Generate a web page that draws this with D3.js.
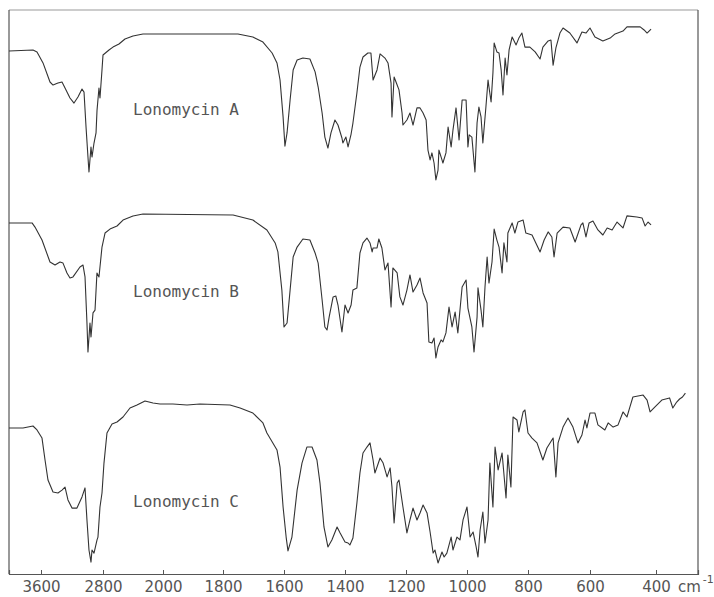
<!DOCTYPE html>
<html><head><meta charset="utf-8">
<script src="https://cdn.jsdelivr.net/npm/d3@7"></script>
<style>body{margin:0;background:#fff}svg{display:block}</style>
</head><body>
<script>
// wavenumber (cm-1) and relative transmittance readings
const wnA = [4000,3700,3650,3574,3484,3445,3381,3329,3290,3226,3174,3123,3071,3045,3019,2994,2981,2955,2942,2916,2890,2877,2852,2839,2813,2800,2720,2667,2587,2507,2400,2267,1751,1702,1669,1639,1623,1613,1603,1597,1590,1580,1570,1557,1538,1515,1498,1488,1475,1466,1456,1446,1433,1423,1410,1407,1397,1390,1380,1374,1361,1351,1341,1325,1315,1308,1295,1285,1269,1259,1249,1246,1239,1229,1223,1213,1210,1197,1187,1177,1164,1154,1144,1134,1128,1121,1115,1108,1102,1095,1092,1082,1079,1069,1062,1052,1046,1036,1026,1016,1003,997,993,984,974,967,961,954,948,938,931,928,921,915,911,902,895,888,882,875,869,862,852,839,830,820,810,794,777,761,752,735,726,719,710,697,687,665,642,626,613,600,585,561,539,524,500,488,448,436,427,415];
const tA = [77.2,77.8,76.7,70.6,60,58.3,59.4,60,56.7,51.1,48.3,51.7,56.1,54.4,35,18.3,10,23.9,18.3,26.1,31.7,44.4,56.7,51.1,66.7,75,77.8,79.4,81.1,83.9,85.6,86.7,86.7,85,82.2,76.1,70.6,61.1,40.6,24.4,31.7,50,66.7,72.2,73.3,72.8,65.6,57.2,42.8,29.4,23.3,31.7,38.9,36.1,28.9,26.1,29.4,23.9,31.1,37.2,53.9,68.3,73.9,76.1,76.1,61.1,66.7,75.6,73.3,70.6,59.4,40.6,62.8,58.3,55.6,42.8,36.1,38.9,42.8,36.1,45.6,45.6,42.8,38.9,22.2,16.7,20.6,15,5.6,11.1,22.2,16.7,15,20.6,35,23.9,33.3,45.6,27.8,50,50,23.9,30.6,29.4,10,37.2,46.1,40.6,26.1,46.1,61.1,57.2,48.9,65,81.7,76.7,76.1,66.7,52.8,73.3,63.9,77.8,85,80.6,84.4,87.2,79.4,79.4,76.7,72.8,79.4,82.8,83.3,69.4,78.9,87.2,90,87.2,81.7,87.8,87.2,90,85,82.8,84.4,86.7,88.3,90.6,90.6,88.9,87.2,89.4];

const wnB = [4000,3712,3675,3587,3484,3419,3355,3316,3265,3226,3187,3097,3058,3032,3007,2994,2968,2955,2929,2903,2878,2852,2813,2773,2707,2613,2533,2400,2267,1767,1702,1656,1629,1620,1607,1600,1590,1580,1570,1557,1538,1515,1498,1488,1475,1466,1459,1452,1439,1430,1423,1410,1400,1390,1380,1374,1361,1351,1341,1328,1318,1311,1308,1295,1289,1279,1269,1259,1249,1243,1229,1220,1210,1197,1187,1177,1164,1154,1144,1131,1125,1115,1108,1102,1095,1085,1079,1069,1059,1049,1039,1030,1016,1003,997,984,977,967,964,954,948,941,934,928,918,911,902,895,885,879,869,866,852,843,833,816,807,787,761,748,735,723,716,706,687,665,648,629,623,613,603,591,576,561,548,533,518,500,488,458,442,433,424,415];
const tB = [81.7,81.7,79.4,72.2,60,58.3,60,59.4,53.9,51.1,51.7,57.2,58.3,51.7,26.1,10,26.1,18.3,31.7,33.3,53.9,51.7,68.3,76.1,78.3,80,83.3,85.6,86.7,86.1,83.3,77.8,70.6,65.6,44.4,23.9,26.1,44.4,62.8,68.3,72.8,72.2,65,59.4,38.9,23.9,22.2,29.4,40.6,41.1,36.1,21.1,36.1,31.7,36.1,44.4,45.6,65,70.6,73.3,70.6,65.6,67.8,67.8,72.8,67.8,55.6,59.4,35,56.7,53.9,40.6,36.1,44.4,52.8,43.3,47.2,51.1,42.8,37.2,15.6,15,17.8,6.7,12.8,16.7,15.6,20.6,35,23.9,32.2,20.6,46.1,50,34.4,23.9,10,29.4,45.6,33.3,23.9,46.1,62.8,48.3,60,78.3,72.2,68.3,53.9,70.6,60,76.1,81.7,76.1,82.2,83.3,76.1,75,65.6,72.2,76.7,73.9,62.8,76.1,79.4,78.9,71.1,80.6,81.7,73.9,81.7,82.8,77.8,75,78.9,77.8,82.2,78.9,85.6,85,84.4,80,82.2,80.6];

const wnC = [4000,3825,3700,3650,3587,3548,3510,3445,3381,3329,3290,3252,3200,3136,3071,3032,3007,2981,2955,2942,2916,2877,2865,2839,2813,2787,2747,2680,2613,2533,2440,2347,2240,2133,2040,1967,1920,1877,1777,1744,1702,1669,1656,1623,1613,1603,1593,1587,1574,1557,1541,1525,1508,1492,1482,1469,1456,1443,1426,1416,1400,1390,1384,1374,1361,1351,1341,1328,1318,1308,1302,1295,1285,1275,1262,1252,1246,1239,1229,1223,1210,1197,1187,1177,1164,1154,1144,1131,1121,1111,1105,1095,1082,1075,1066,1052,1046,1033,1023,1013,1000,990,980,970,964,957,948,941,931,925,915,908,898,885,872,866,856,849,836,830,816,810,800,787,771,752,739,719,710,703,687,671,655,639,626,616,610,600,585,576,555,545,530,515,500,488,479,470,439,427,418,403,382,358,348,336,327,318,309];
const tC = [78.9,78.9,80,77.8,73.3,61.1,50,43.3,42.8,44.4,46.1,38.9,34.4,34.4,40.6,45.6,27.8,11.1,4.4,11.1,9.4,16.7,18.3,35,42.8,59.4,76.1,81.1,82.2,85,90,91.7,93.9,92.8,92.2,92.2,91.7,92.2,91.7,90,87.2,81.7,76.1,66.7,57.2,35,18.3,10.6,18.3,44.4,59.4,68.3,68.3,61.1,48.3,23.9,12.8,16.7,23.9,20.6,15.6,15,13.9,17.8,37.2,53.9,65,68.3,70.6,61.1,53.9,57.2,62.2,59.4,51.7,56.7,46.1,26.1,48.3,50,35,20.6,27.8,34.4,27.8,31.7,36.1,31.7,21.1,9.4,11.1,3.9,10,7.2,9.4,18.3,11.1,18.3,16.7,27.8,35,18.3,21.1,12.8,7.2,22.2,32.2,15,27.8,59.4,35,68.3,55.6,65,40,63.9,46.1,85,83.3,76.7,87.8,88.9,76.1,73.3,70.6,61.1,67.8,73.3,51.7,70.6,79.4,84.4,79.4,70.6,75,83.3,78.9,87.2,87.2,80.6,77.8,81.7,79.4,80.6,87.8,85,90.6,96.1,97.2,94.4,87.8,90.6,94.4,95.6,90,93.3,95,96.1,98.3];

const labels = ["Lonomycin A", "Lonomycin B", "Lonomycin C"];
const tickValues = [3600, 2800, 2000, 1800, 1600, 1400, 1200, 1000, 800, 600, 400];
const unitLabel = "cm";
const unitExp = "-1";

const W = 714, H = 597;
const svg = d3.select("body").append("svg").attr("width", W).attr("height", H);

// piecewise wavenumber scale (chart paper has uneven divisions)
const x = d3.scaleLinear()
  .domain([4000, 3600, 2800, 2000, 1800, 1600, 1400, 1200, 1000, 800, 600, 400, 270])
  .range([9, 41, 103, 163, 223, 284, 345, 406, 467, 528, 590, 656, 698]);

const yA = d3.scaleLinear().domain([0, 100]).range([190, 10]);
const yB = d3.scaleLinear().domain([0, 100]).range([370, 190]);
const yC = d3.scaleLinear().domain([0, 100]).range([570, 390]);

const frameTop = 10, frameBottom = 574, frameLeft = 9, frameRight = 698;

// frame
svg.append("line").attr("x1", frameLeft).attr("x2", frameRight).attr("y1", frameTop).attr("y2", frameTop)
  .attr("stroke", "#999").attr("stroke-width", 1);
svg.append("line").attr("x1", frameRight).attr("x2", frameRight).attr("y1", frameTop).attr("y2", frameBottom)
  .attr("stroke", "#555").attr("stroke-width", 1.2);
svg.append("line").attr("x1", frameLeft).attr("x2", frameLeft).attr("y1", frameTop).attr("y2", frameBottom)
  .attr("stroke", "#555").attr("stroke-width", 1.2);

// bottom axis with inward ticks
const axis = d3.axisBottom(x).tickValues(tickValues).tickSize(-4).tickPadding(7)
  .tickFormat(d3.format("d"));
const g = svg.append("g").attr("transform", `translate(0,${frameBottom})`).call(axis);
g.select(".domain").attr("stroke", "#555").attr("stroke-width", 1.2);
g.selectAll(".tick line").attr("stroke", "#555");
g.selectAll(".tick text").attr("fill", "#555")
  .style("font-family", "DejaVu Sans, sans-serif").style("font-size", "15px");

// unit label
const u = svg.append("text").attr("x", 678).attr("y", 592).attr("fill", "#555")
  .style("font-family", "DejaVu Sans, sans-serif").style("font-size", "15px");
u.append("tspan").text(unitLabel);
u.append("tspan").attr("dy", -9).attr("dx", 2).style("font-size", "11px").text(unitExp);

// traces
const series = [
  {wn: wnA, t: tA, y: yA},
  {wn: wnB, t: tB, y: yB},
  {wn: wnC, t: tC, y: yC}
];
series.forEach(s => {
  const pts = s.wn.map((w, i) => [w, s.t[i]]);
  const line = d3.line().x(d => x(d[0])).y(d => s.y(d[1]));
  svg.append("path").datum(pts).attr("d", line)
    .attr("fill", "none").attr("stroke", "#333").attr("stroke-width", 1.1)
    .attr("stroke-linejoin", "round");
});

// sample labels
const labelT = [41.7, 40.6, 35];
const yScales = [yA, yB, yC];
labels.forEach((lab, i) => {
  svg.append("text").attr("x", x(2400)).attr("y", yScales[i](labelT[i]))
    .attr("fill", "#555").style("font-family", "DejaVu Sans Mono, monospace")
    .style("font-size", "16px").text(lab);
});
</script>
</body></html>
